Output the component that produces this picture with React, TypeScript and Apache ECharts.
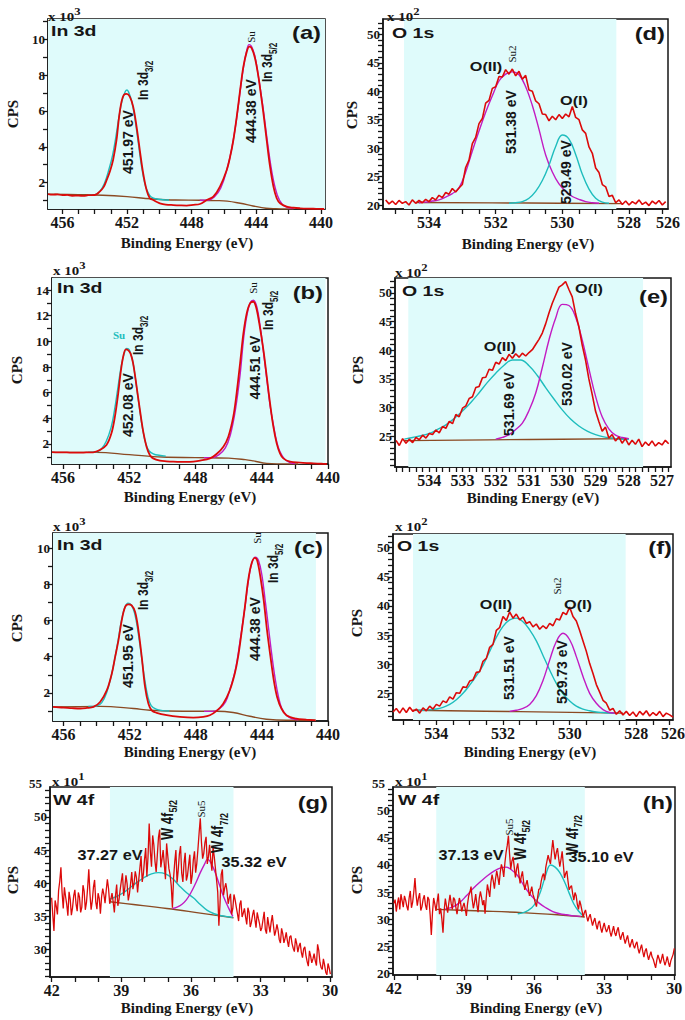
import React, { useEffect, useRef } from 'react';
import * as echarts from 'echarts';

// ---------------- DATA ----------------
// (a) In 3d  (CPS x10^3)
const A_E = [456.89,456.6,456.3,456.0,455.7,455.4,455.0,454.7,454.4,454.0,453.69,453.45,453.27,453.05,452.86,452.65,452.49,452.34,452.2,452.03,451.83,451.62,451.41,451.21,451.0,450.79,450.59,450.38,450.15,449.97,449.6,449.14,448.7,448.31,447.9,447.49,447.07,446.66,446.25,445.83,445.62,445.42,445.21,445.0,444.8,444.59,444.43,444.29,444.08,443.87,443.72,443.56,443.36,443.15,442.94,442.74,442.53,442.12,441.7,441.29,440.8,440.3,439.8];
const A_I = [1.36,1.33,1.35,1.30,1.32,1.27,1.28,1.26,1.30,1.31,1.50,1.75,2.12,2.65,3.27,4.38,5.68,6.52,6.89,6.95,6.80,6.24,5.13,3.82,2.52,1.59,1.13,1.03,0.92,0.85,0.78,0.75,0.73,0.72,0.76,0.81,1.03,1.22,1.78,2.71,3.45,4.38,5.68,7.17,8.47,9.31,9.59,9.50,8.94,7.92,6.95,5.87,4.38,2.89,1.78,1.13,0.85,0.66,0.6,0.57,0.55,0.54,0.53];
const A_CYAN_E = [454.4,454.0,453.7,453.4,453.1,452.9,452.7,452.5,452.3,452.1,452.0,451.9,451.7,451.5,451.3,451.1,450.9,450.7,450.5,450.2,449.8,449.4];
const A_CYAN_I = [1.31,1.33,1.5,1.95,2.8,3.5,4.5,5.65,6.6,7.1,7.17,7.05,6.5,5.5,4.2,2.9,1.95,1.45,1.2,1.1,1.05,1.03];
const A_MAG_E = [447.5,447.0,446.6,446.2,445.8,445.5,445.2,445.0,444.8,444.6,444.45,444.3,444.1,443.9,443.6,443.3,443.0,442.7,442.4,442.1,441.7];
const A_MAG_I = [1.02,1.02,1.2,1.7,2.8,4.0,5.7,7.1,8.4,9.35,9.7,9.6,9.1,8.1,6.3,4.2,2.4,1.3,0.8,0.62,0.56];
const A_BG_E = [456.89,455.0,453.5,452.0,450.5,449.0,447.5,446.5,445.8,445.0,444.2,443.4,442.8,442.1,441.7];
const A_BG_I = [1.35,1.33,1.3,1.22,1.1,1.03,1.02,1.0,0.97,0.85,0.7,0.57,0.54,0.53,0.53];

// (b) In 3d
const B_E = [456.67,456.3,456.0,455.6,455.0,454.6,454.19,453.78,453.38,453.08,452.87,452.67,452.53,452.37,452.21,452.07,451.93,451.77,451.56,451.36,451.16,450.96,450.76,450.56,450.15,449.75,449.35,448.94,448.54,448.13,447.73,447.13,446.73,446.32,446.02,445.72,445.52,445.31,445.11,444.91,444.71,444.51,444.35,444.15,443.9,443.7,443.5,443.3,443.1,442.9,442.7,442.29,441.69,441.2,440.88,440.4,440.07];
const B_I = [1.36,1.34,1.35,1.33,1.32,1.34,1.35,1.53,1.92,2.83,4.13,5.95,7.51,8.81,9.38,9.32,9.06,8.29,6.47,4.65,2.96,1.79,1.14,0.88,0.70,0.65,0.62,0.61,0.60,0.63,0.70,0.88,1.22,1.79,2.57,4.13,5.95,8.29,10.62,12.18,12.96,13.09,12.70,11.40,9.32,7.25,5.17,3.35,2.05,1.27,0.88,0.62,0.55,0.51,0.49,0.46,0.44];
const B_CYAN_E = [454.5,454.0,453.7,453.4,453.1,452.9,452.7,452.5,452.3,452.15,452.0,451.8,451.6,451.4,451.2,451.0,450.8,450.5,450.2,449.8];
const B_CYAN_I = [1.35,1.38,1.6,2.2,3.3,4.6,6.3,8.0,9.1,9.45,9.35,8.5,6.8,4.9,3.2,2.0,1.45,1.2,1.12,1.05];
const B_MAG_E = [447.5,447.0,446.6,446.2,445.9,445.6,445.3,445.1,444.9,444.7,444.5,444.3,444.1,443.9,443.7,443.5,443.3,443.1,442.9,442.6,442.3,442.0];
const B_MAG_I = [0.94,0.94,1.15,1.7,2.7,4.6,7.5,10.2,12.0,13.0,13.2,12.7,11.2,9.2,7.1,5.0,3.5,2.2,1.4,0.8,0.55,0.48];
const B_BG_E = [456.67,454.0,452.0,450.0,448.0,446.0,445.0,444.5,443.7,442.3,441.8];
const B_BG_I = [1.35,1.35,1.17,0.98,0.94,0.9,0.78,0.68,0.49,0.44,0.44];

// (c) In 3d
const C_E = [456.64,456.3,456.0,455.5,454.99,454.6,454.19,453.79,453.38,453.08,452.88,452.68,452.48,452.28,452.08,451.88,451.67,451.47,451.27,451.07,450.87,450.67,450.37,449.76,448.96,448.15,447.55,447.15,446.74,446.34,445.94,445.64,445.44,445.24,445.03,444.83,444.63,444.43,444.29,444.09,443.89,443.69,443.48,443.28,443.08,442.82,442.52,441.92,441.31,440.75];
const C_I = [1.23,1.20,1.19,1.16,1.14,1.17,1.23,1.50,2.15,3.07,3.99,4.90,6.01,6.74,6.89,6.83,6.47,5.46,3.99,2.33,1.41,1.04,0.90,0.77,0.68,0.64,0.68,0.77,1.01,1.41,2.15,3.07,3.99,5.27,6.74,8.21,9.13,9.46,9.32,8.40,7.11,5.46,3.99,2.70,1.78,1.14,0.77,0.58,0.53,0.49];
const C_CYAN_E = [454.5,454.0,453.7,453.4,453.1,452.9,452.7,452.5,452.3,452.1,451.9,451.7,451.5,451.3,451.1,450.9,450.7,450.4,450.0,449.6];
const C_CYAN_I = [1.25,1.28,1.45,2.0,3.0,3.9,4.9,6.0,6.7,6.96,6.85,6.4,5.4,4.1,2.8,1.8,1.3,1.1,1.02,1.0];
const C_MAG_E = [447.5,447.0,446.6,446.2,445.9,445.6,445.3,445.0,444.8,444.6,444.4,444.2,444.0,443.8,443.6,443.4,443.2,443.0,442.8,442.5,442.2,441.8];
const C_MAG_I = [0.98,0.98,1.1,1.5,2.3,3.3,5.0,6.9,8.3,9.2,9.5,9.3,8.5,7.1,5.6,4.1,2.8,1.8,1.15,0.75,0.58,0.52];
const C_BG_E = [456.64,453.79,451.77,450.77,448.76,446.74,445.74,444.73,443.73,442.52,440.75];
const C_BG_I = [1.23,1.26,1.14,1.04,0.99,0.99,0.92,0.71,0.55,0.49,0.49];

// (d) O 1s (CPS x10^2), spectrum sampled every 0.1 eV from 535.3 eV
const D_START = 535.3;
const D_I = [20.9,20.2,20.7,20.1,20.8,20.3,20.6,20.0,20.9,20.3,20.8,20.4,21.0,20.6,21.3,20.9,21.7,21.3,22.2,21.9,22.9,22.3,23.0,23.6,26.6,27.9,30.8,31.9,34.3,35.2,37.9,38.4,40.5,40.8,42.6,42.5,43.8,43.0,43.9,42.7,43.5,42.1,42.8,40.2,40.0,38.3,37.8,36.0,35.9,34.8,35.6,35.0,35.9,35.2,36.0,35.5,37.3,35.4,35.0,33.2,32.6,30.2,29.1,26.5,25.7,23.6,23.2,21.5,21.7,20.4,20.9,20.1,20.7,20.0,20.6,20.2,20.9,20.1,20.5,19.9,20.7,20.2,20.8,20.0,20.6];
const D_MAG_E = [534.3,534.1,533.9,533.7,533.5,533.3,533.1,532.9,532.7,532.5,532.3,532.1,531.9,531.7,531.5,531.3,531.1,530.9,530.7,530.5,530.3,530.1,529.9,529.7,529.5,529.3,529.1,528.9];
const D_MAG_I = [20.4,20.5,20.7,20.9,21.4,22.0,23.0,25.8,29.5,33.0,36.3,39.2,41.8,43.0,43.4,42.9,40.8,37.5,33.3,28.8,25.8,23.7,22.4,21.5,21.0,20.6,20.4,20.3];
const D_CYAN_E = [531.6,531.4,531.2,531.0,530.8,530.6,530.4,530.2,530.0,529.8,529.6,529.4,529.2,529.0,528.8,528.6];
const D_CYAN_I = [20.3,20.4,20.6,21.2,22.4,24.3,27.0,30.3,32.3,31.6,28.9,25.4,22.8,21.2,20.5,20.3];
const D_BG_E = [534.4,531.0,528.2];
const D_BG_I = [20.45,20.35,20.25];

// (e) O 1s, every 0.1 eV from 535.0 eV
const E_START = 535.0;
const E_I = [24.3,23.4,24.6,23.8,24.5,23.9,24.8,24.4,25.2,24.7,25.5,25.3,26.1,25.6,26.7,26.4,27.6,27.2,28.8,28.4,29.9,30.3,31.6,31.9,33.5,33.7,35.2,35.3,36.7,36.5,37.9,37.6,38.7,38.2,39.3,38.6,39.4,38.8,39.5,39.0,39.6,40.1,41.0,41.9,43.0,44.6,46.5,48.2,49.6,51.0,51.4,52.0,50.6,49.3,46.4,44.1,40.9,38.3,35.0,32.3,29.4,27.6,25.9,26.6,24.7,25.3,24.2,24.9,23.8,24.6,23.5,24.3,23.6,24.5,23.2,24.0,23.4,24.2,23.3,23.9,23.5,24.3,23.7];
const E_CYAN_E = [534.75,534.5,534.25,534.0,533.75,533.5,533.25,533.0,532.75,532.5,532.25,532.0,531.75,531.5,531.25,531.0,530.75,530.5,530.25,530.0,529.75,529.5,529.25,529.0,528.75,528.5,528.25,528.0];
const E_CYAN_I = [24.5,24.8,25.1,25.5,26.2,27.0,28.1,29.4,30.9,32.6,34.4,36.0,37.4,38.3,38.3,37.3,35.6,33.5,31.5,29.6,28.0,26.8,25.9,25.3,24.9,24.7,24.5,24.5];
const E_MAG_E = [532.0,531.8,531.6,531.4,531.2,531.0,530.8,530.6,530.4,530.2,530.0,529.8,529.6,529.4,529.2,529.0,528.8,528.6,528.4,528.2,528.0];
const E_MAG_I = [24.5,24.8,25.3,26.2,27.3,29.5,32.5,37.0,41.8,45.6,48.0,47.8,45.8,41.8,36.8,32.0,28.4,26.3,25.2,24.8,24.6];
const E_BG_E = [534.75,531.0,528.0];
const E_BG_I = [24.25,24.45,24.6];

// (f) O 1s, every 0.1 eV from 535.3 eV
const F_START = 535.3;
const F_I = [21.8,22.4,21.6,22.5,21.7,22.6,21.9,22.3,21.6,22.5,22.0,22.8,22.3,23.1,22.8,23.7,23.4,24.4,24.0,25.1,25.0,26.1,26.0,27.1,27.3,28.6,28.7,30.5,31.0,32.9,33.4,35.8,36.3,38.2,37.5,39.0,37.9,38.6,37.6,38.1,37.0,37.3,36.4,36.9,36.0,36.6,36.1,37.0,36.6,37.8,37.6,38.9,38.5,39.8,38.2,37.4,35.8,34.0,32.2,30.1,28.4,26.5,25.2,23.8,23.3,22.1,22.4,21.4,22.0,21.3,21.9,21.2,21.8,21.0,21.9,21.3,22.0,21.1,21.7,21.2,21.9,21.0,21.6,21.3,20.9];
const F_CYAN_E = [534.6,534.4,534.2,534.0,533.8,533.6,533.4,533.2,533.0,532.8,532.6,532.4,532.2,532.0,531.8,531.6,531.4,531.2,531.0,530.8,530.6,530.4,530.2,530.0,529.8,529.6,529.4,529.2,529.0,528.8,528.6];
const F_CYAN_I = [22.1,22.1,22.2,22.3,22.6,23.1,23.9,25.0,26.4,28.0,29.8,32.2,34.6,36.5,37.6,37.9,37.3,35.9,34.0,31.5,29.0,26.7,24.9,23.7,22.8,22.3,22.0,21.8,21.7,21.6,21.6];
const F_MAG_E = [531.8,531.6,531.4,531.2,531.0,530.8,530.6,530.4,530.2,530.0,529.8,529.6,529.4,529.2,529.0,528.8,528.6];
const F_MAG_I = [21.9,22.1,22.4,23.1,24.6,27.2,30.7,33.9,35.3,34.2,31.3,27.9,25.0,23.3,22.2,21.7,21.6];
const F_BG_E = [534.7,531.5,528.4];
const F_BG_I = [22.1,21.85,21.6];

// (g) W 4f (CPS x10^1): readings every 0.1 eV from 42.0 eV, plus the readings half-way between them
const G_START = 42.0;
const G_I = [37.8,32.8,36.5,38.9,42.4,36.2,38.0,35.1,37.6,36.3,39.0,35.8,37.9,36.4,38.8,37.1,42.1,36.0,39.4,37.2,38.5,35.4,39.2,37.0,40.6,36.9,38.5,35.6,39.8,37.5,40.3,38.1,41.2,37.4,40.0,39.1,41.8,38.6,42.3,40.2,43.6,41.0,49.0,42.5,45.8,41.7,46.9,42.4,45.0,40.6,44.1,41.3,36.3,43.2,40.1,44.4,41.5,43.0,40.4,42.8,39.9,43.5,41.6,45.2,49.8,43.7,46.1,42.9,45.8,41.9,44.0,40.5,33.6,41.3,38.2,40.0,36.9,38.4,36.2,37.5,35.4,36.8,34.9,36.2,33.8,35.6,34.1,36.0,33.3,34.7,32.8,34.5,33.0,34.9,32.6,35.2,32.1,33.8,31.5,33.2,31.0,32.6,30.4,32.1,30.2,31.7,29.6,31.0,28.8,30.4,28.2,29.8,28.0,29.4,27.6,29.9,27.3,28.6,26.6,27.9,26.3];
const G_I_HALF = [35.2,37.4,35.3,40.3,38.6,39.4,36.8,38.7,35.2,38.1,36.9,38.6,35.6,39.7,36.0,39.3,38.4,37.3,40.5,36.1,37.7,37.9,38.3,38.9,39.2,37.6,37.2,38.1,36.6,39.0,41.5,39.3,39.9,38.4,41.7,40.0,40.9,40.5,44.1,41.4,45.3,44.0,44.8,47.2,43.3,44.2,48.1,43.6,42.9,46.0,42.2,39.6,40.8,45.0,42.0,45.6,40.2,44.6,41.2,44.3,41.1,44.8,43.0,47.6,46.2,44.5,47.0,44.0,43.5,45.4,42.3,38.7,37.0,42.1,39.3,38.8,37.8,35.3,38.3,36.4,34.3,37.4,35.5,34.9,36.3,33.4,35.2,34.6,35.6,33.9,33.3,35.7,32.4,33.7,34.1,33.6,32.8,32.9,31.0,32.4,31.7,31.3,31.9,30.9,29.7,30.9,30.5,29.6,30.1,29.1,27.5,29.0,28.6,28.3,30.8,28.1,27.0,27.7,26.2,27.2];
const G_CYAN_E = [39.5,39.2,38.9,38.6,38.3,38.0,37.7,37.4,37.1,36.8,36.5,36.2,35.9,35.6,35.3,35.0,34.7,34.4,34.2];
const G_CYAN_I = [37.6,38.0,38.6,39.4,40.2,40.9,41.4,41.6,41.4,40.7,39.6,38.6,37.8,36.8,35.9,35.4,35.1,34.95,34.85];
const G_MAG_E = [36.8,36.6,36.4,36.2,36.0,35.8,35.6,35.4,35.3,35.2,35.0,34.8,34.6,34.4,34.2];
const G_MAG_I = [36.2,36.4,36.8,37.5,38.6,40.0,41.6,43.0,43.6,43.4,42.0,40.0,38.0,36.4,35.0];
const G_BG_E = [39.49,38.48,37.04,35.6,34.17];
const G_BG_I = [37.2,36.8,36.2,35.5,34.8];

// (h) W 4f, every 0.1 eV from 42.0 eV, plus half-way readings
const H_START = 42.0;
const H_I = [32.9,31.4,34.0,34.6,32.2,33.5,31.6,35.2,33.1,37.6,32.5,34.8,32.3,34.4,31.7,33.6,27.1,33.9,31.5,34.7,32.0,27.5,33.8,31.2,34.5,31.8,33.6,30.9,33.9,31.4,33.0,30.6,34.3,36.0,32.0,34.6,31.3,35.1,32.6,31.0,36.4,34.1,38.2,35.6,38.9,36.3,40.1,37.8,42.3,45.4,39.2,41.5,37.7,40.3,36.6,38.8,35.4,37.2,34.3,36.0,33.9,32.3,35.5,36.9,38.4,39.6,41.8,40.2,44.6,41.0,43.1,39.7,42.5,37.6,38.9,35.4,36.2,33.5,34.3,31.8,32.6,30.4,31.7,29.6,30.9,28.8,30.2,28.1,29.7,27.5,29.3,27.6,28.9,26.8,28.7,26.9,28.5,26.2,27.6,25.5,27.0,24.8,26.3,24.6,25.8,23.7,25.3,23.0,24.6,22.5,24.0,22.6,21.0,23.4,21.8,23.6,21.5,23.1,21.2,22.9,24.6];
const H_I_HALF = [33.6,32.9,31.8,33.4,34.3,32.4,33.9,32.1,35.0,34.4,33.9,31.6,33.7,32.6,34.1,30.8,31.2,32.8,33.2,30.9,30.1,31.6,32.4,33.0,32.9,34.0,32.2,32.5,33.1,32.3,31.9,32.8,34.9,33.7,33.1,32.7,33.8,34.0,33.5,33.9,35.3,36.8,37.1,37.5,37.7,38.6,39.3,40.4,43.6,42.0,40.7,39.6,39.3,38.2,37.9,36.9,36.4,35.8,35.1,34.6,33.0,34.0,35.6,37.9,37.2,40.7,40.9,42.5,42.7,42.3,41.2,41.0,40.1,38.4,37.0,35.9,34.7,34.9,32.7,33.4,31.5,31.2,30.5,30.4,29.8,29.6,29.0,29.3,28.4,28.5,28.3,28.2,27.6,27.8,27.5,27.9,27.1,27.0,26.4,26.3,25.7,25.6,25.2,25.4,24.5,24.6,24.0,24.1,23.4,23.3,23.0,21.8,22.4,22.7,22.6,22.4,22.2,22.0,22.3,23.5];
const H_MAG_E = [39.8,39.5,39.2,38.9,38.6,38.3,38.0,37.7,37.4,37.2,37.0,36.7,36.4,36.1,35.8,35.5,35.2,34.9,34.6,34.3,34.0];
const H_MAG_I = [31.9,32.2,33.0,34.3,35.7,36.9,38.0,38.9,39.5,39.6,39.2,38.0,35.9,34.2,33.0,32.1,31.4,31.0,30.8,30.6,30.5];
const H_CYAN_E = [36.7,36.4,36.1,35.9,35.7,35.5,35.3,35.1,34.9,34.7,34.5,34.3,34.1,33.9];
const H_CYAN_I = [31.0,31.3,32.1,33.3,35.4,38.2,40.0,39.6,38.6,36.9,34.8,32.8,31.5,30.6];
const H_BG_E = [40.19,38.2,36.5,35.0,33.83];
const H_BG_I = [31.8,31.5,31.2,30.8,30.4];

const STEP = 0.1;

// tick label values
const IN_X_LABELS = [440, 444, 448, 452, 456];
const O_X_LABELS = [534, 532, 530, 528];
const E_X_LABELS = [527, 528, 529, 530, 531, 532, 533, 534];
const W_X_LABELS = [30, 33, 36, 39, 42];
const Y_LABELS_A = [2, 4, 6, 8, 10];
const Y_LABELS_B = [2, 4, 6, 8, 10, 12, 14];
const Y_LABELS_O = [20, 25, 30, 35, 40, 45, 50];
const Y_LABELS_OE = [25, 30, 35, 40, 45, 50];
const Y_LABELS_G = [30, 35, 40, 45, 50];
const Y_LABELS_H = [20, 25, 30, 35, 40, 45, 50];

// ---------------- STYLE ----------------
const SERIF = "'Liberation Serif','Times New Roman',serif";
const SANS = "'Liberation Sans',Arial,sans-serif";
const RED = '#dc0a0a';
const CYAN = '#1fbdbd';
const MAG = '#c21bc2';
const BROWN = '#8b4a23';
const SHADE = '#dffbfb';
const INK = '#161616';

const zip = (xs: number[], ys: number[]) => xs.map((x, i) => [x, ys[i]]);
const onGrid = (start: number, ys: number[]) => ys.map((y, i) => [+(start - i * STEP).toFixed(2), y]);
const onGrid2 = (start: number, ys: number[], half: number[]) => {
  const out: number[][] = [];
  ys.forEach((y, i) => {
    out.push([+(start - i * STEP).toFixed(3), y]);
    if (i < half.length) out.push([+(start - (i + 0.5) * STEP).toFixed(3), half[i]]);
  });
  return out;
};
const seq = (a: number, b: number, s: number) => {
  const r: number[] = [];
  for (let v = a; v <= b + 1e-9; v += s) r.push(+v.toFixed(2));
  return r;
};

const PANELS: any[] = [
  { left: 48, top: 19, width: 277, height: 190, xMin: 439.75, xMax: 456.89, yMin: 0.53, yMax: 11.13,
    xTicks: seq(440, 456, 1), xLabels: IN_X_LABELS, yTicks: seq(1, 11, 1), yLabels: Y_LABELS_A,
    shade: [439.75, 456.89], spec: zip(A_E, A_I), smooth: 0.35, lw: 1.8,
    comps: [[zip(A_BG_E, A_BG_I), BROWN], [zip(A_CYAN_E, A_CYAN_I), CYAN], [zip(A_MAG_E, A_MAG_I), MAG]] },
  { left: 52, top: 278, width: 276, height: 186, xMin: 440, xMax: 456.67, yMin: 0.44, yMax: 14.94,
    xTicks: seq(440, 456, 1), xLabels: IN_X_LABELS, yTicks: seq(1, 14, 1), yLabels: Y_LABELS_B,
    shade: [440.15, 456.67], spec: zip(B_E, B_I), smooth: 0.35, lw: 1.8,
    comps: [[zip(B_BG_E, B_BG_I), BROWN], [zip(B_CYAN_E, B_CYAN_I), CYAN], [zip(B_MAG_E, B_MAG_I), MAG]] },
  { left: 53, top: 533, width: 275, height: 188, xMin: 440, xMax: 456.64, yMin: 0.45, yMax: 10.83,
    xTicks: seq(440, 456, 1), xLabels: IN_X_LABELS, yTicks: seq(1, 10, 1), yLabels: Y_LABELS_A,
    shade: [440.73, 456.64], spec: zip(C_E, C_I), smooth: 0.35, lw: 1.8,
    comps: [[zip(C_BG_E, C_BG_I), BROWN], [zip(C_CYAN_E, C_CYAN_I), CYAN], [zip(C_MAG_E, C_MAG_I), MAG]] },
  { left: 383, top: 19, width: 285, height: 190, xMin: 526.83, xMax: 535.38, yMin: 19.3, yMax: 52.7,
    xTicks: seq(527, 535, 0.5), xLabels: [...O_X_LABELS, 526.83], xEnd: '526', yTicks: seq(20, 52, 1), yLabels: Y_LABELS_O,
    shade: [528.38, 534.75], spec: onGrid(D_START, D_I), smooth: false, lw: 1.6,
    comps: [[zip(D_BG_E, D_BG_I), BROWN], [zip(D_MAG_E, D_MAG_I), MAG], [zip(D_CYAN_E, D_CYAN_I), CYAN]] },
  { left: 395, top: 278, width: 276, height: 189, xMin: 526.73, xMax: 535.03, yMin: 19.65, yMax: 52.6,
    xTicks: seq(526.8, 535.0, 0.2), xLabels: E_X_LABELS, yTicks: seq(20, 52, 1), yLabels: Y_LABELS_OE,
    shade: [527.57, 534.63], spec: onGrid(E_START, E_I), smooth: false, lw: 1.6,
    comps: [[zip(E_BG_E, E_BG_I), BROWN], [zip(E_CYAN_E, E_CYAN_I), CYAN], [zip(E_MAG_E, E_MAG_I), MAG]] },
  { left: 393, top: 534, width: 280, height: 186, xMin: 526.9, xMax: 535.3, yMin: 20.42, yMax: 52.35,
    xTicks: seq(527, 535, 0.5), xLabels: [...O_X_LABELS, 526.9], xEnd: '526', yTicks: seq(21, 52, 1), yLabels: Y_LABELS_OE,
    shade: [528.32, 534.7], spec: onGrid(F_START, F_I), smooth: false, lw: 1.6,
    comps: [[zip(F_BG_E, F_BG_I), BROWN], [zip(F_CYAN_E, F_CYAN_I), CYAN], [zip(F_MAG_E, F_MAG_I), MAG]] },
  { left: 50, top: 787, width: 282, height: 190, xMin: 29.93, xMax: 42.07, yMin: 25.87, yMax: 54.5,
    xTicks: seq(30, 42, 1), xLabels: W_X_LABELS, yTicks: seq(26, 54, 1), yLabels: Y_LABELS_G,
    shade: [34.17, 39.49], spec: onGrid2(G_START, G_I, G_I_HALF), smooth: false, lw: 1.3,
    comps: [[zip(G_BG_E, G_BG_I), BROWN], [zip(G_CYAN_E, G_CYAN_I), CYAN], [zip(G_MAG_E, G_MAG_I), MAG]] },
  { left: 393, top: 787, width: 282, height: 188, xMin: 29.97, xMax: 42.04, yMin: 19.69, yMax: 54.38,
    xTicks: seq(30, 42, 1), xLabels: W_X_LABELS, yTicks: seq(20, 54, 1), yLabels: Y_LABELS_H,
    shade: [33.83, 40.19], spec: onGrid2(H_START, H_I, H_I_HALF), smooth: false, lw: 1.3,
    comps: [[zip(H_BG_E, H_BG_I), BROWN], [zip(H_MAG_E, H_MAG_I), MAG], [zip(H_CYAN_E, H_CYAN_I), CYAN]] },
];

// ---------------- TEXT ----------------
const subRich = (fs: number) => ({
  m: { fontFamily: SANS, fontWeight: 'bold', fontSize: fs, lineHeight: fs + 6, fill: INK },
  s: { fontFamily: SANS, fontWeight: 'bold', fontSize: Math.round(fs * 0.68), lineHeight: Math.round(fs * 0.68), verticalAlign: 'bottom', fill: INK },
});
const supRich = {
  m: { fontFamily: SERIF, fontWeight: 'bold', fontSize: 13, lineHeight: 22, fill: INK },
  p: { fontFamily: SERIF, fontWeight: 'bold', fontSize: 11, lineHeight: 10, verticalAlign: 'top', fill: INK },
};

const lab = (x: number, y: number, text: string, o: any = {}) => ({
  type: 'text', x, y, z: 100, silent: true,
  rotation: o.rot ? Math.PI / 2 : 0,
  scaleX: o.sx ?? 1, scaleY: o.sy ?? 1,
  style: {
    text, fill: o.color ?? INK,
    fontFamily: o.ff ?? SANS, fontWeight: o.fw ?? 'bold', fontSize: o.fs ?? 14,
    align: o.align ?? 'center', textAlign: o.align ?? 'center',
    verticalAlign: 'middle', textVerticalAlign: 'middle',
    rich: o.rich,
  },
});

const pow = (x: number, y: number, n: string) => lab(x, y, `{m|x 10}{p|${n}}`, { align: 'left', rich: supRich, sx: 1.15 });
const cps = (x: number, y: number) => lab(x, y, 'CPS', { rot: 1, ff: SERIF, fs: 15 });
const be = (x: number, y: number) => lab(x, y, 'Binding Energy (eV)', { ff: SERIF, fs: 15 });
const title = (x: number, y: number, t: string) => lab(x, y, t, { align: 'left', fs: 15, sx: 1.3 });
const tag = (x: number, y: number, t: string) => lab(x, y, t, { align: 'right', fs: 19, sx: 1.25 });
const vpos = (x: number, y: number, t: string) => lab(x, y, t, { rot: 1, fs: 14 });
const vname = (x: number, y: number, main: string, sub: string, fs = 12) =>
  lab(x, y, `{m|${main}}{s|${sub}}`, { rot: 1, align: 'left', rich: subRich(fs), sy: 1.25 });
const su = (x: number, y: number, t: string) => lab(x, y, t, { rot: 1, ff: SERIF, fw: 'normal', fs: 11 });
const hlab = (x: number, y: number, t: string, fs = 13, sx = 1.25) => lab(x, y, t, { fs, sx, align: 'center' });
const ylab = (x: number, y: number, t: string) => lab(x, y, t, { ff: SERIF, fs: 13, align: 'right' });

const TEXTS = [
  // (a)
  pow(48, 16.5, '3'), cps(13, 114), be(187, 243), title(51, 31, 'In 3d'), tag(321, 33, '(a)'),
  vpos(128, 142, '451.97 eV'), vname(143, 100, 'In 3d', '3/2'), vpos(250.5, 111, '444.38 eV'),
  vname(267, 82, 'In 3d', '5/2'), su(251, 37, 'Su'),
  // (b)
  pow(53, 271, '3'), cps(17, 370), be(190, 497), title(57, 288, 'In 3d'), tag(323, 293, '(b)'),
  lab(113, 335, 'Su', { align: 'left', ff: SERIF, fs: 11, color: CYAN }),
  vpos(128, 405, '452.08 eV'), vname(138, 355, 'In 3d', '3/2'), vpos(255, 367.5, '444.51 eV'),
  vname(268, 330, 'In 3d', '5/2'), su(253, 288, 'Su'),
  // (c)
  pow(53, 527, '3'), cps(17, 628), be(190, 752), title(57, 545, 'In 3d'), tag(323, 548, '(c)'),
  vpos(128, 656, '451.95 eV'), vname(143, 610, 'In 3d', '3/2'), vpos(255, 629, '444.38 eV'),
  vname(273, 583, 'In 3d', '5/2'), su(257, 538, 'Su'),
  // (d)
  pow(387, 16.5, '2'), cps(352, 115), be(528, 244), title(392, 32.5, 'O 1s'), tag(665, 34, '(d)'),
  hlab(486, 67, 'O(II)'), su(512, 54, 'Su2'), vpos(511, 122, '531.38 eV'), hlab(574, 101, 'O(I)'),
  vpos(566, 172, '529.49 eV'),
  // (e)
  pow(395, 273, '2'), cps(358, 370), be(533, 498), title(402, 291, 'O 1s'), tag(668, 297, '(e)'),
  hlab(589, 289, 'O(I)'), hlab(500, 347, 'O(II)'), vpos(509, 404, '531.69 eV'), vpos(567, 374, '530.02 eV'),
  // (f)
  pow(395, 527, '2'), cps(357, 623), be(530, 752), title(397, 546, 'O 1s'), tag(672, 548, '(f)'),
  hlab(496, 605, 'O(II)'), su(557, 586, 'Su2'), hlab(578, 605, 'O(I)'),
  vpos(509, 668, '531.51 eV'), vpos(562, 672, '529.73 eV'),
  // (g)
  ylab(42, 783, '55'), pow(52, 782, '1'), cps(13, 880), be(187, 1008), title(53, 800, 'W 4f'), tag(328, 803, '(g)'),
  vname(167, 840, 'W 4f', '5/2', 13), su(201, 809, 'Su5'), vname(217.5, 853, 'W 4f', '7/2', 13),
  hlab(110, 855, '37.27 eV', 14, 1.16), hlab(254, 862, '35.32 eV', 14, 1.16),
  // (h)
  ylab(385, 783, '55'), pow(395, 782, '1'), cps(357, 880), be(536, 1008), title(398, 800, 'W 4f'), tag(673, 803, '(h)'),
  su(509, 827, 'Su5'), vname(520, 860, 'W 4f', '5/2', 13), vname(572, 855, 'W 4f', '7/2', 13),
  hlab(471, 855, '37.13 eV', 14, 1.16), hlab(601, 857, '35.10 eV', 14, 1.16),
];

function buildOption() {
  const grid: any[] = [];
  const xAxis: any[] = [];
  const yAxis: any[] = [];
  const series: any[] = [];
  PANELS.forEach((p, i) => {
    grid.push({ left: p.left, top: p.top, width: p.width, height: p.height, show: true,
      borderColor: INK, borderWidth: 1.5, backgroundColor: 'transparent',
      containLabel: false, outerBoundsMode: 'none' });
    xAxis.push({
      type: 'value', gridIndex: i, min: p.xMin, max: p.xMax, inverse: true,
      axisLine: { show: true, onZero: false, lineStyle: { color: INK, width: 1.5 } },
      axisTick: { show: true, length: 5, customValues: p.xTicks, lineStyle: { color: INK, width: 1.3 } },
      axisLabel: {
        show: true, customValues: p.xLabels, margin: 5, color: INK, fontFamily: SERIF,
        fontWeight: 'bold', fontSize: 16,
        formatter: (v: number) => (p.xEnd && Math.abs(v - p.xMin) < 1e-6 ? p.xEnd : String(Math.round(v))),
      },
      splitLine: { show: false },
    });
    yAxis.push({
      type: 'value', gridIndex: i, min: p.yMin, max: p.yMax,
      axisLine: { show: true, onZero: false, lineStyle: { color: INK, width: 1.5 } },
      axisTick: { show: true, length: 5, customValues: p.yTicks, lineStyle: { color: INK, width: 1.3 } },
      axisLabel: {
        show: true, customValues: p.yLabels, margin: 3, color: INK, fontFamily: SERIF,
        fontWeight: 'bold', fontSize: 13, padding: [0, 0, 5, 0],
        formatter: (v: number) => String(Math.round(v)),
      },
      splitLine: { show: false },
    });
    series.push({
      type: 'line', xAxisIndex: i, yAxisIndex: i, data: [[p.xMax, p.yMin]], showSymbol: false,
      lineStyle: { opacity: 0 }, silent: true, z: 1,
      markArea: { silent: true, itemStyle: { color: SHADE, opacity: 1 },
        data: [[{ xAxis: p.shade[0], yAxis: p.yMin }, { xAxis: p.shade[1], yAxis: p.yMax }]] },
    });
    p.comps.forEach(([d, c]: any) => {
      series.push({ type: 'line', xAxisIndex: i, yAxisIndex: i, data: d, showSymbol: false, smooth: 0.4,
        lineStyle: { color: c, width: 1.4 }, z: 3, silent: true });
    });
    series.push({ type: 'line', xAxisIndex: i, yAxisIndex: i, data: p.spec, showSymbol: false,
      smooth: p.smooth, lineStyle: { color: RED, width: p.lw }, z: 5, silent: true });
  });
  return { animation: false, grid, xAxis, yAxis, series, graphic: { elements: TEXTS } };
}

export default function App() {
  const ref = useRef<HTMLDivElement>(null);
  useEffect(() => {
    const chart = echarts.init(ref.current!, null, { renderer: 'svg' });
    chart.setOption(buildOption() as any);
    return () => chart.dispose();
  }, []);
  return <div ref={ref} style={{ position: 'absolute', left: 0, top: 0, width: 685, height: 1020, background: '#fff' }} />;
}
